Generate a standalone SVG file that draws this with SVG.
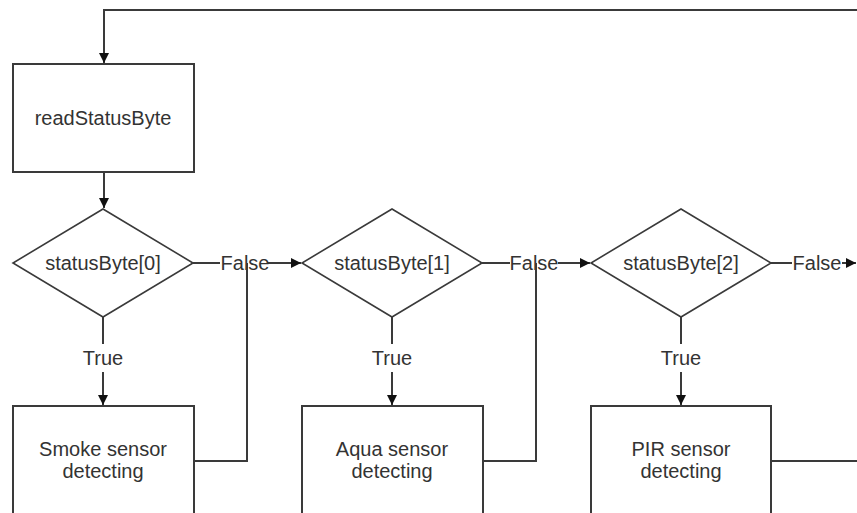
<svg xmlns="http://www.w3.org/2000/svg" width="857" height="513" viewBox="0 0 857 513">
  <defs>
    <marker id="arrow" viewBox="0 0 10 10" refX="10" refY="5" markerWidth="11" markerHeight="10" markerUnits="userSpaceOnUse" orient="auto">
      <path d="M0,0 L10,5 L0,10 z" fill="#111"/>
    </marker>
    <style>
      .box { fill: #fff; stroke: #3a3a3a; stroke-width: 2; }
      .dec { fill: #fff; stroke: #3a3a3a; stroke-width: 1.6; }
      .ln { fill: none; stroke: #3a3a3a; stroke-width: 2; }
      .arr { fill: none; stroke: #3a3a3a; stroke-width: 2; marker-end: url(#arrow); }
      .t { font-family: "Liberation Sans", Arial, sans-serif; font-size: 20px; fill: #333; text-anchor: middle; }
    </style>
  </defs>

  <rect width="857" height="513" fill="#fff"/>

  <!-- connectors -->
  <g id="connectors">
    <!-- loop back to the top -->
    <polyline class="arr" points="857,10 104,10 104,63"/>
    <line class="arr" x1="104" y1="172" x2="104" y2="208"/>

    <!-- decision 0 -->
    <line class="ln" x1="193" y1="263" x2="220" y2="263"/>
    <line class="arr" x1="268" y1="263" x2="301" y2="263"/>
    <line class="ln" x1="103" y1="317" x2="103" y2="344"/>
    <line class="arr" x1="103" y1="372" x2="103" y2="405"/>
    <text class="t" x="245" y="270">False</text>
    <text class="t" x="103" y="365">True</text>
    <polyline class="ln" points="194,461 247,461 247,263"/>

    <!-- decision 1 -->
    <line class="ln" x1="482" y1="263" x2="510" y2="263"/>
    <line class="arr" x1="558" y1="263" x2="590" y2="263"/>
    <line class="ln" x1="392" y1="317" x2="392" y2="344"/>
    <line class="arr" x1="392" y1="372" x2="392" y2="405"/>
    <text class="t" x="534" y="270">False</text>
    <text class="t" x="392" y="365">True</text>
    <polyline class="ln" points="483,461 536,461 536,263"/>

    <!-- decision 2 -->
    <line class="ln" x1="771" y1="263" x2="792" y2="263"/>
    <line class="arr" x1="842" y1="263" x2="856" y2="263"/>
    <line class="ln" x1="681" y1="317" x2="681" y2="344"/>
    <line class="arr" x1="681" y1="372" x2="681" y2="405"/>
    <text class="t" x="817" y="270">False</text>
    <text class="t" x="681" y="365">True</text>
    <line class="ln" x1="771" y1="461" x2="857" y2="461"/>
  </g>

  <g id="readStatusByte">
    <rect class="box" x="13" y="64" width="181" height="108"/>
    <text class="t" x="103" y="125">readStatusByte</text>
  </g>

  <g id="statusByte0">
    <polygon class="dec" points="103,209 193,263 103,317 13,263"/>
    <text class="t" x="103" y="270">statusByte[0]</text>
  </g>

  <g id="statusByte1">
    <polygon class="dec" points="392,209 482,263 392,317 302,263"/>
    <text class="t" x="392" y="270">statusByte[1]</text>
  </g>

  <g id="statusByte2">
    <polygon class="dec" points="681,209 771,263 681,317 591,263"/>
    <text class="t" x="681" y="270">statusByte[2]</text>
  </g>

  <g id="smoke">
    <rect class="box" x="13" y="406" width="181" height="130"/>
    <text class="t" x="103" y="456">Smoke sensor</text>
    <text class="t" x="103" y="478">detecting</text>
  </g>

  <g id="aqua">
    <rect class="box" x="302" y="406" width="181" height="130"/>
    <text class="t" x="392" y="456">Aqua sensor</text>
    <text class="t" x="392" y="478">detecting</text>
  </g>

  <g id="pir">
    <rect class="box" x="591" y="406" width="180" height="130"/>
    <text class="t" x="681" y="456">PIR sensor</text>
    <text class="t" x="681" y="478">detecting</text>
  </g>
</svg>
